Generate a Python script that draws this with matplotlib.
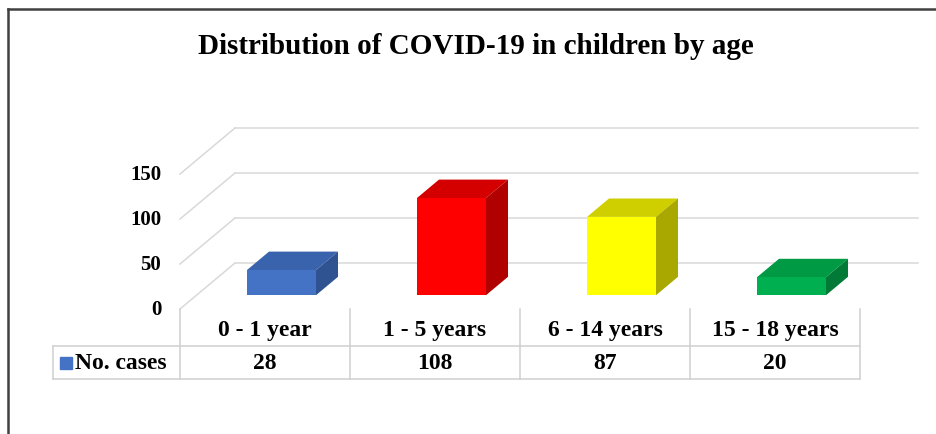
import numpy as np
import matplotlib.pyplot as plt
from matplotlib.patches import Polygon
from matplotlib.lines import Line2D

# data
categories = ["0 - 1 year", "1 - 5 years", "6 - 14 years", "15 - 18 years"]
cases = [28, 108, 87, 20]
yticks = [0, 50, 100, 150]
series_name = "No. cases"
title = "Distribution of COVID-19 in children by age"

front_colors = ["#4472C4", "#FF0000", "#FFFF00", "#00B050"]
top_colors = ["#3A63AE", "#D40000", "#CFCF00", "#009A45"]
side_colors = ["#2F5290", "#B00000", "#A8A800", "#007A36"]

GRID = "#D9D9D9"
FONT = ["Liberation Serif", "DejaVu Serif"]

# fake 3D: a full depth step moves by DX categories and DV value units
DX = 55 / 170
DV = 46 / 0.9
bar_w = 69 / 170
d0, d1 = 0.3, 0.7   # bar front/back depth

fig = plt.figure(figsize=(9.37, 4.35), dpi=100)
ax = fig.add_axes([0, 0, 1, 1])
ax.set_xlim(-265 / 170, (937 - 265) / 170)
ax.set_ylim((310 - 435) / 0.9, 310 / 0.9)
ax.axis("off")

x = np.arange(len(categories))
left_edge = -0.5
right_end = (918 - 265) / 170

# back wall gridlines and side wall diagonals
for v in yticks:
    ax.plot([left_edge + DX, right_end], [v + DV, v + DV], color=GRID, lw=1.1, zorder=1)
    ax.plot([left_edge, left_edge + DX], [v, v + DV], color=GRID, lw=1.1, zorder=1)
    ax.text(left_edge - 0.11, v, str(v), ha="right", va="center",
            fontsize=15, fontweight="bold", family=FONT)

# bars
xl = x - bar_w / 2 + d0 * DX
bottom = d0 * DV
dd = d1 - d0
ax.bar(xl, cases, width=bar_w, bottom=bottom, align="edge",
       color=front_colors, zorder=3)
for i, h in enumerate(cases):
    l, r, t = xl[i], xl[i] + bar_w, bottom + h
    top = [(l, t), (r, t), (r + dd * DX, t + dd * DV), (l + dd * DX, t + dd * DV)]
    side = [(r, bottom), (r, t), (r + dd * DX, t + dd * DV), (r + dd * DX, bottom + dd * DV)]
    ax.add_patch(Polygon(top, closed=True, color=top_colors[i], zorder=2.9, lw=0))
    ax.add_patch(Polygon(side, closed=True, color=side_colors[i], zorder=2.9, lw=0))

# data table
row_mid = (310 - 347) / 0.9
row_bot = (310 - 380) / 0.9
tab_left = (53 - 265) / 170
tline = dict(color="#D0D0D0", lw=1.1, zorder=1)
for xb in np.arange(len(categories) + 1) - 0.5:
    ax.plot([xb, xb], [0, row_bot], **tline)
ax.plot([tab_left, x[-1] + 0.5], [row_mid, row_mid], **tline)
ax.plot([tab_left, x[-1] + 0.5], [row_bot, row_bot], **tline)
ax.plot([tab_left, tab_left], [row_mid, row_bot], **tline)

for i, (c, n) in enumerate(zip(categories, cases)):
    ax.text(x[i], row_mid / 2 - 2, c, ha="center", va="center",
            fontsize=17, fontweight="bold", family=FONT)
    ax.text(x[i], (row_mid + row_bot) / 2, str(n), ha="center", va="center",
            fontsize=17, fontweight="bold", family=FONT)

ax.plot([(66 - 265) / 170], [(row_mid + row_bot) / 2], marker="s", ms=8,
        color=front_colors[0], lw=0)
ax.text((75 - 265) / 170, (row_mid + row_bot) / 2, series_name, ha="left", va="center",
        fontsize=17, fontweight="bold", family=FONT)

fig.text(476 / 937, 1 - 46 / 435, title, ha="center", va="center",
         fontsize=21, fontweight="bold", family=FONT)

# chart frame (top and left visible)
fig.add_artist(Line2D([8 / 937, 1], [1 - 10 / 435] * 2, color="#404040", lw=1.8,
                      transform=fig.transFigure))
fig.add_artist(Line2D([8 / 937] * 2, [0, 1 - 10 / 435], color="#404040", lw=1.8,
                      transform=fig.transFigure))

fig.savefig("out.png", dpi=100)
